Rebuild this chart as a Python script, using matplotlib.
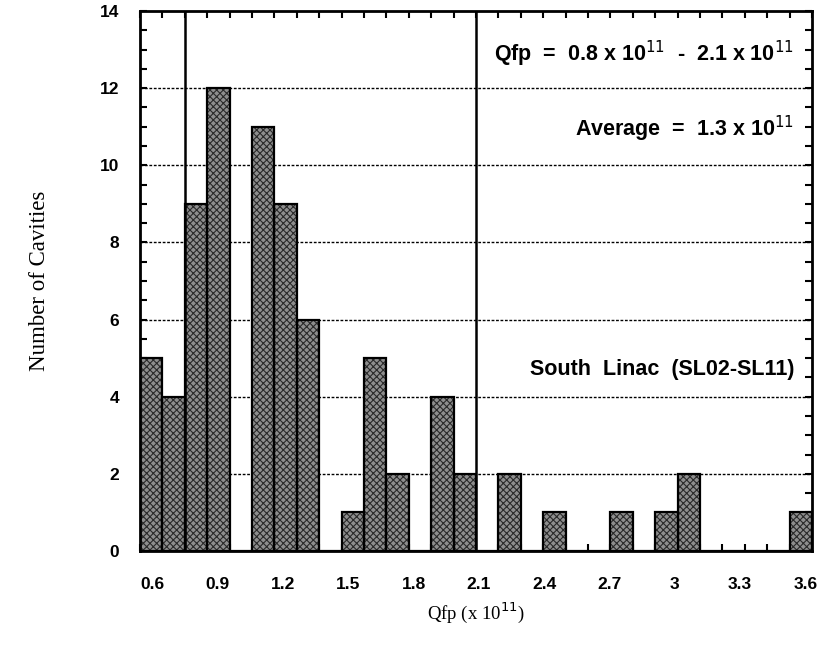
import numpy as np
import matplotlib.pyplot as plt
from matplotlib.ticker import MultipleLocator

# Histogram data (bin left edges, width 0.1, in units of 1e11)
bin_left = np.round(np.arange(0.6, 3.6, 0.1), 2)
counts = [5, 4, 9, 12, 0, 11, 9, 6, 0, 1,
          5, 2, 0, 4, 2, 0, 2, 0, 1, 0,
          0, 1, 0, 1, 2, 0, 0, 0, 0, 1]
tick_labels = ["0.6", "0.9", "1.2", "1.5", "1.8", "2.1", "2.4", "2.7", "3", "3.3", "3.6"]
qfp_range = [0.8, 2.1]

# Style settings
sans = "Liberation Sans"
serif = "Liberation Serif"
bar_face = "#8e8e8e"
hatch_color = "#2a2a2a"
plt.rcParams["hatch.linewidth"] = 0.8

fig = plt.figure(figsize=(8.34, 6.48), dpi=100)
ax = fig.add_axes([140 / 834, 1 - 551 / 648, 672 / 834, 540 / 648])

# hatched fill, then black outlines
ax.bar(bin_left, counts, width=0.1, align="edge", color=bar_face,
       edgecolor=hatch_color, hatch="xxxxx", linewidth=0, zorder=2)
ax.bar(bin_left, counts, width=0.1, align="edge", fill=False,
       edgecolor="black", linewidth=1.6, zorder=3)

# dotted horizontal grid
for y in range(2, 14, 2):
    ax.axhline(y, color="black", linestyle=(0, (2, 1.2)), linewidth=1.0, zorder=1)

# range markers
for x in qfp_range:
    ax.axvline(x, color="black", linewidth=1.8, zorder=4)

ax.set_xlim(0.6, 3.6)
ax.set_ylim(0, 14)

# labelled ticks sit under the bin centres as in the original drawing
ax.set_xticks(np.linspace(0.655, 3.57, len(tick_labels)))
ax.set_xticklabels(tick_labels, fontfamily=sans, fontweight="bold", fontsize=12.5)
ax.xaxis.set_minor_locator(MultipleLocator(0.1))
ax.tick_params(axis="x", which="major", length=0, pad=19)
ax.tick_params(axis="x", which="minor", direction="in", length=5, width=1.5,
               top=True, bottom=True)

ax.set_yticks(range(0, 15, 2))
ax.set_yticklabels([str(v) for v in range(0, 15, 2)], fontfamily=sans,
                   fontweight="bold", fontsize=12.5)
ax.yaxis.set_minor_locator(MultipleLocator(0.5))
ax.tick_params(axis="y", which="both", direction="in", length=5, width=1.5,
               left=True, right=True, pad=15)

for s in ax.spines.values():
    s.set_linewidth(2)

ax.set_ylabel("Number of Cavities", fontfamily=serif, fontsize=16.5, labelpad=36)
ax.set_xlabel("Qfp (x 10$^{11}$)", fontfamily=serif, fontsize=13.5, labelpad=6)

txt = dict(fontfamily=sans, fontsize=15.5, fontweight="bold", ha="right",
           va="center", zorder=5)
ax.text(3.52, 12.9, "Qfp  =  0.8 x 10$^{11}$  -  2.1 x 10$^{11}$", **txt)
ax.text(3.52, 10.95, "Average  =  1.3 x 10$^{11}$", **txt)
ax.text(3.52, 4.7, "South  Linac  (SL02-SL11)", **txt)

plt.savefig("out.png", dpi=100)
plt.close()
